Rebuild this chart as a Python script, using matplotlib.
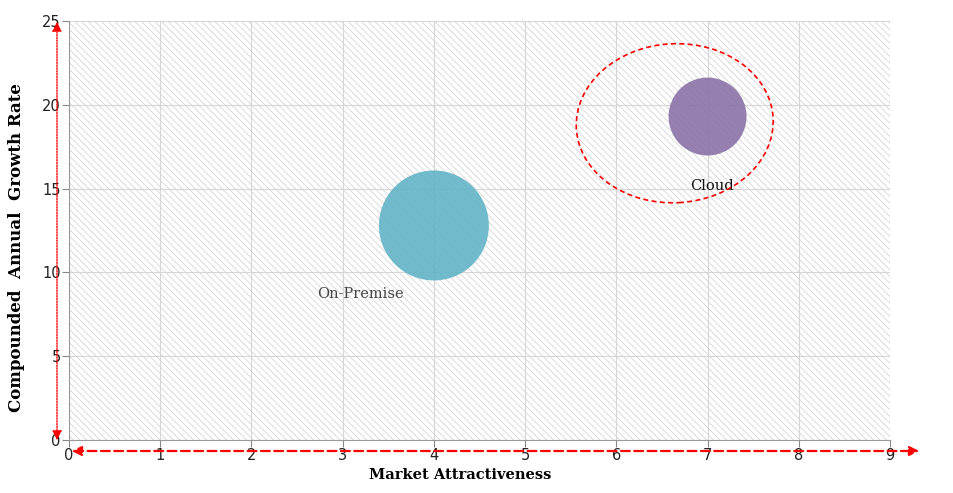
import matplotlib.pyplot as plt
import matplotlib.transforms as mtransforms
from matplotlib.patches import Ellipse, FancyArrowPatch

# data
segments = ["On-Premise", "Cloud"]
attractiveness = [4.0, 7.0]
cagr = [12.8, 19.3]
bubble_size = [6270, 3150]
colors = ["#62b4c7", "#8a72a8"]
label_colors = ["#444444", "#111111"]
x_ticks = list(range(0, 10))
y_ticks = [0, 5, 10, 15, 20, 25]

plt.rcParams["hatch.linewidth"] = 0.5

fig = plt.figure(figsize=(9.54, 4.93), dpi=100)
ax = fig.add_axes([69 / 954, 53 / 493, 821 / 954, 419 / 493])

# hatched background
ax.patch.set_facecolor("white")
ax.patch.set_hatch("\\\\\\\\\\")
ax.patch.set_edgecolor("#cfcfcf")
ax.patch.set_linewidth(0)

ax.set_xlim(0, 9)
ax.set_ylim(0, 25)
ax.set_xticks(x_ticks)
ax.set_yticks(y_ticks)
ax.grid(True, color="#d6d6d6", linewidth=0.8)
ax.set_axisbelow(True)

for s in ["top", "right"]:
    ax.spines[s].set_visible(False)
ax.spines["left"].set_color("#999999")
ax.spines["bottom"].set_color("#999999")
ax.tick_params(axis="both", colors="#888888", labelcolor="#222222",
               labelsize=10.5, length=5)
ax.tick_params(axis="y", pad=1)
ax.tick_params(axis="x", pad=1)

ax.scatter(attractiveness, cagr, s=bubble_size, c=colors, alpha=0.9,
           edgecolors="none", zorder=3)

# labels
ax.text(attractiveness[0] - 0.8, cagr[0] - 4.3, segments[0], fontsize=10.5,
        family="DejaVu Serif", color=label_colors[0], ha="center", zorder=4)
ax.text(attractiveness[1] + 0.05, cagr[1] - 4.4, segments[1], fontsize=10.5,
        family="DejaVu Serif", color=label_colors[1], ha="center", zorder=4)

# highlight ellipse around Cloud, sized in pixels
ell_tr = mtransforms.Affine2D() + mtransforms.ScaledTranslation(6.64, 18.9, ax.transData)
ell = Ellipse((0, 0), width=197, height=159, angle=3, transform=ell_tr,
              fill=False, edgecolor="red", linestyle=(0, (3, 2)),
              linewidth=1.2, zorder=4)
ax.add_patch(ell)

ax.set_xlabel("Market Attractiveness", fontsize=10.5, fontweight="bold",
              family="DejaVu Serif")
ax.set_ylabel("Compounded  Annual  Growth Rate", fontsize=12, fontweight="bold",
              family="DejaVu Serif")
ax.xaxis.set_label_coords(0.477, -0.066)
ax.yaxis.set_label_coords(-0.054, 0.46)

# red arrows along axes
fig.patches.append(FancyArrowPatch(
    (69 / 954, 1 - 451 / 493), (922 / 954, 1 - 451 / 493),
    transform=fig.transFigure, arrowstyle="<|-|>", mutation_scale=14,
    color="red", linestyle=(0, (4, 2)), linewidth=1.6))
fig.patches.append(FancyArrowPatch(
    (57 / 954, 1 - 443 / 493), (57 / 954, 1 - 19 / 493),
    transform=fig.transFigure, arrowstyle="<|-|>", mutation_scale=14,
    color="red", linestyle=(0, (1, 1)), linewidth=1.0))

fig.savefig("out.png", dpi=100)
